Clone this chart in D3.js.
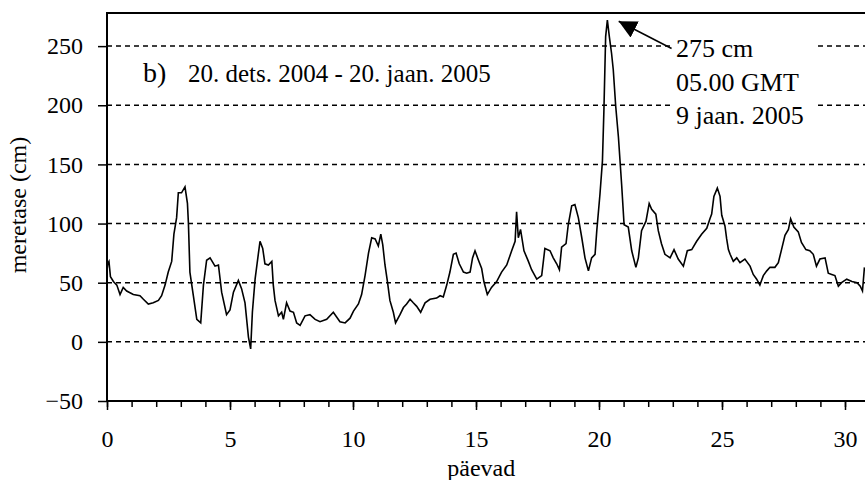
<!DOCTYPE html>
<html>
<head>
<meta charset="utf-8">
<script src="https://cdn.jsdelivr.net/npm/d3@7"></script>
<style>
  html, body { margin: 0; padding: 0; background: #fff; }
  svg { display: block; }
</style>
</head>
<body>
<svg id="chart" width="865" height="480"></svg>
<script>
// ---- data ----
const days = [
  0.00,0.03,0.08,0.14,0.26,0.40,0.53,0.66,0.80,1.07,1.34,1.48,1.68,1.88,2.09,2.22,2.36,2.49,2.63,2.72,
  2.83,2.90,3.03,3.17,3.27,3.31,3.37,3.51,3.65,3.81,3.92,4.05,4.19,4.39,4.53,4.66,4.86,5.00,5.14,5.34,
  5.47,5.61,5.75,5.84,5.91,6.02,6.15,6.22,6.33,6.42,6.56,6.70,6.76,6.83,6.97,7.10,7.17,7.30,7.44,7.58,
  7.71,7.85,8.05,8.25,8.46,8.66,8.93,9.20,9.47,9.68,9.88,10.02,10.22,10.35,10.49,10.63,10.76,10.90,11.03,11.13,
  11.21,11.30,11.40,11.50,11.64,11.73,11.91,12.05,12.18,12.32,12.45,12.59,12.75,12.93,13.13,13.40,13.54,13.67,13.81,13.94,
  14.08,14.19,14.32,14.49,14.62,14.76,14.86,14.96,15.10,15.23,15.32,15.46,15.63,15.84,16.04,16.25,16.45,16.59,16.65,16.72,
  16.81,16.95,17.13,17.26,17.47,17.67,17.80,18.01,18.14,18.28,18.39,18.48,18.66,18.75,18.89,19.02,19.16,19.30,19.43,19.57,
  19.70,19.84,19.91,20.04,20.14,20.20,20.27,20.34,20.42,20.51,20.58,20.68,20.79,20.92,21.02,21.19,21.33,21.50,21.60,21.73,
  21.91,22.04,22.14,22.31,22.41,22.54,22.68,22.89,23.05,23.22,23.43,23.59,23.77,23.97,24.17,24.38,24.51,24.58,24.67,24.81,
  24.92,24.99,25.12,25.19,25.26,25.33,25.46,25.60,25.73,25.93,26.14,26.27,26.41,26.54,26.68,26.82,26.95,27.15,27.29,27.42,
  27.56,27.70,27.79,27.92,28.10,28.23,28.41,28.57,28.71,28.84,28.98,29.19,29.32,29.46,29.59,29.73,29.86,30.07,30.28,30.49,
  30.62,30.71,30.79
];
const level = [
  60,66,68,55,51,48,40,46,43,40,39,36,32,33,35,39,48,59,68,91,
  105,126,126,131,117,100,59,39,19,16,48,69,71,64,65,42,23,27,42,52,
  45,33,4,-6,25,53,74,85,79,66,65,68,48,35,22,25,19,33,26,25,
  16,14,22,23,19,17,19,25,17,16,20,26,32,40,56,75,88,87,81,91,
  82,65,51,35,25,16,23,29,32,36,33,30,25,33,36,37,39,38,48,59,
  74,75,66,59,58,59,71,77,69,62,51,40,46,51,59,65,77,85,110,88,
  95,77,68,61,53,56,79,77,71,66,61,80,83,99,115,116,105,88,71,60,
  71,74,94,125,153,196,258,272,258,244,230,199,173,133,99,97,77,63,71,94,
  102,117,112,108,94,83,74,71,78,70,64,77,78,85,91,96,104,108,123,130,
  123,107,98,87,78,74,68,71,67,70,64,57,53,48,56,60,63,63,67,78,
  90,95,104,97,93,84,78,77,74,64,70,71,58,57,56,47,50,53,51,50,
  47,43,63
];
const yTicks = [-50, 0, 50, 100, 150, 200, 250];
const yGrid = [0, 50, 100, 150, 200, 250];
const xMajorTicks = [0, 5, 10, 15, 20, 25, 30];
const xMinorTicks = d3.range(0, 32);
const xDomain = [0, 31];
const yDomain = [-50, 278];
const titleLabel = "b)";
const titleText = "20. dets. 2004 - 20. jaan. 2005";
const noteLines = ["275 cm", "05.00 GMT", "9 jaan. 2005"];
const noteTip = [20.8, 271];   // arrow tip (day, cm)
const noteTail = [22.95, 248]; // arrow tail (day, cm)
const xTitle = "päevad";
const yTitle = "meretase (cm)";

const FONT = "'Liberation Serif', 'Times New Roman', 'DejaVu Serif', serif";

// ---- layout ----
const svg = d3.select("#chart");
const L = 107, T = 13, B = 401, R = 107 + 31 * 24.6;
const x = d3.scaleLinear().domain(xDomain).range([L, R]);
const y = d3.scaleLinear().domain(yDomain).range([B, T]);

// gridlines
svg.append("g").selectAll("line").data(yGrid).join("line")
  .attr("x1", L).attr("x2", R)
  .attr("y1", d => y(d)).attr("y2", d => y(d))
  .attr("stroke", "#000").attr("stroke-width", 1.5)
  .attr("stroke-dasharray", "5,4");

// white box behind annotation
svg.append("rect")
  .attr("x", 673).attr("y", 32).attr("width", 141).attr("height", 100)
  .attr("fill", "#fff");

// data line
const line = d3.line().x((d, i) => x(days[i])).y((d, i) => y(level[i]));
svg.append("path")
  .attr("d", line(level))
  .attr("fill", "none").attr("stroke", "#000").attr("stroke-width", 1.6)
  .attr("stroke-linejoin", "miter");

// axes
const yAxis = d3.axisLeft(y).tickValues(yTicks).tickSize(9).tickSizeOuter(0).tickPadding(15);
const gy = svg.append("g").attr("transform", `translate(${L},0)`).call(yAxis);
gy.attr("font-family", FONT).attr("font-size", 24);
gy.select(".domain").remove();
gy.selectAll("line").attr("stroke-width", 1.5);
gy.selectAll("text").attr("font-family", FONT).attr("font-size", 24).attr("fill", "#000");

const xMinor = d3.axisBottom(x).tickValues(xMinorTicks).tickSize(6).tickSizeOuter(0).tickFormat("");
const gxm = svg.append("g").attr("transform", `translate(0,${B})`).call(xMinor);
gxm.select(".domain").remove();
gxm.selectAll("line").attr("stroke-width", 1.5);

const xMajor = d3.axisBottom(x).tickValues(xMajorTicks).tickSize(9).tickSizeOuter(0).tickPadding(20).tickFormat(d3.format("d"));
const gx = svg.append("g").attr("transform", `translate(0,${B})`).call(xMajor);
gx.attr("font-family", FONT).attr("font-size", 24);
gx.select(".domain").remove();
gx.selectAll("line").attr("stroke-width", 1.5);
gx.selectAll("text").attr("font-family", FONT).attr("font-size", 24).attr("fill", "#000");

// frame
svg.append("rect")
  .attr("x", L).attr("y", T).attr("width", R - L).attr("height", B - T)
  .attr("fill", "none").attr("stroke", "#000").attr("stroke-width", 2);

// title
const tt = svg.append("text").attr("x", 143).attr("y", 82).attr("font-family", FONT);
tt.append("tspan").attr("font-size", 28).text(titleLabel);
tt.append("tspan").attr("x", 188).attr("font-size", 25).text(titleText);

// annotation
svg.append("defs").append("marker")
  .attr("id", "ah").attr("viewBox", "0 0 10 10").attr("refX", 10).attr("refY", 5)
  .attr("markerWidth", 18).attr("markerHeight", 18).attr("markerUnits", "userSpaceOnUse")
  .attr("orient", "auto")
  .append("path").attr("d", "M0,0 L10,5 L0,10 Z").attr("fill", "#000");
svg.append("line")
  .attr("x1", x(noteTail[0])).attr("y1", y(noteTail[1]))
  .attr("x2", x(noteTip[0])).attr("y2", y(noteTip[1]))
  .attr("stroke", "#000").attr("stroke-width", 1.5)
  .attr("marker-end", "url(#ah)");
svg.append("g").selectAll("text").data(noteLines).join("text")
  .attr("x", 676).attr("y", (d, i) => 57 + i * 33.5)
  .attr("font-family", FONT).attr("font-size", 26).text(d => d);

// axis titles
svg.append("text").attr("x", (L + R) / 2 - 7).attr("y", 476)
  .attr("font-family", FONT)
  .attr("text-anchor", "middle").attr("font-size", 24).text(xTitle);
svg.append("text").attr("transform", "translate(26,205) rotate(-90)")
  .attr("font-family", FONT)
  .attr("text-anchor", "middle").attr("font-size", 24).text(yTitle);
</script>
</body>
</html>
